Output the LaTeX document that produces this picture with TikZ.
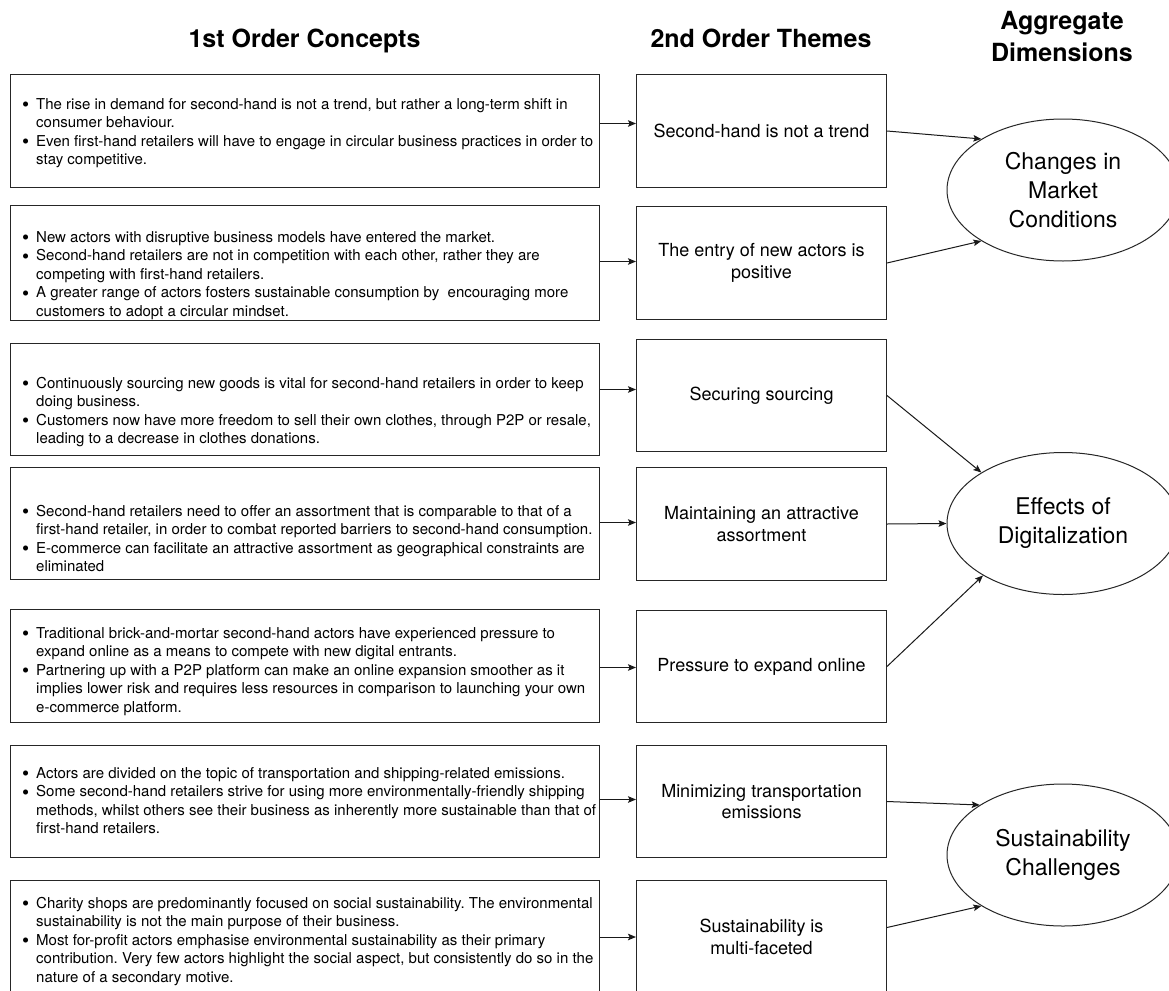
\documentclass[tikz,border=0pt]{standalone}
\usepackage{fontspec}
\usepackage{graphicx}
\setmainfont{TeX Gyre Heros}
\usetikzlibrary{arrows.meta,shapes.geometric,calc}
\newcommand{\bl}{\makebox[14pt][l]{\smash{\raisebox{-2.8pt}{\scalebox{1.35}{\textbullet}}}}}
\newcommand{\ind}{\hspace*{14pt}}
\frenchspacing
\begin{document}
\begin{tikzpicture}[x=1pt,y=-1pt,
  box/.style={draw=black!85, line width=1pt, rectangle, inner sep=0pt},
  lbox/.style={box, anchor=north west, minimum width=589pt},
  mbox/.style={box, anchor=north west, minimum width=250pt, align=center, font=\fontsize{18}{21.5}\selectfont},
  ltext/.style={anchor=base west, inner sep=0pt, font=\fontsize{15}{18.5}\selectfont},
  ell/.style={draw=black!85, line width=1pt, ellipse, minimum width=232pt, minimum height=142pt, inner sep=0pt, align=center, font=\fontsize{23}{29}\selectfont},
  hdr/.style={anchor=base, inner sep=0pt, font=\bfseries\fontsize{25}{32}\selectfont},
  arr/.style={line width=1pt, draw=black!90, -{Stealth[length=8pt,width=6.5pt,inset=1.5pt]}}
]
\useasboundingbox (0,0) rectangle (1169,990);
\fill[white] (0,0) rectangle (1169,990);
\clip (0,0) rectangle (1169,990);

% headers
\node[hdr] (h1) at (304.5,48) {1st Order Concepts};
\node[hdr] (h2) at (761,48) {2nd Order Themes};
\node[hdr] (h3) at (1062,29.5) {\begin{tabular}[t]{@{}c@{}}Aggregate\\Dimensions\end{tabular}};

% left boxes
\node[lbox, minimum height=113pt] (l1) at (10,74) {};
\node[lbox, minimum height=115pt] (l2) at (10,205) {};
\node[lbox, minimum height=112pt] (l3) at (10,343) {};
\node[lbox, minimum height=112pt] (l4) at (10,467) {};
\node[lbox, minimum height=113pt] (l5) at (10,609) {};
\node[lbox, minimum height=112pt] (l6) at (10,745) {};
\node[lbox, minimum height=113pt] (l7) at (10,880) {};

\node[ltext] (t1) at (22,109) {\begin{tabular}[t]{@{}l@{}}
\bl The rise in demand for second-hand is not a trend, but rather a long-term shift in\\
\ind consumer behaviour.\\
\bl Even first-hand retailers will have to engage in circular business practices in order to\\
\ind stay competitive.\end{tabular}};

\node[ltext] (t2) at (22,242) {\begin{tabular}[t]{@{}l@{}}
\bl New actors with disruptive business models have entered the market.\\
\bl Second-hand retailers are not in competition with each other, rather they are\\
\ind competing with first-hand retailers.\\
\bl A greater range of actors fosters sustainable consumption by\ \ encouraging more\\
\ind customers to adopt a circular mindset.\end{tabular}};

\node[ltext] (t3) at (22,388) {\begin{tabular}[t]{@{}l@{}}
\bl Continuously sourcing new goods is vital for second-hand retailers in order to keep\\
\ind doing business.\\
\bl Customers now have more freedom to sell their own clothes, through P2P or resale,\\
\ind leading to a decrease in clothes donations.\end{tabular}};

\node[ltext] (t4) at (22,516) {\begin{tabular}[t]{@{}l@{}}
\bl Second-hand retailers need to offer an assortment that is comparable to that of a\\
\ind first-hand retailer, in order to combat reported barriers to second-hand consumption.\\
\bl E-commerce can facilitate an attractive assortment as geographical constraints are\\
\ind eliminated\end{tabular}};

\node[ltext] (t5) at (22,638) {\begin{tabular}[t]{@{}l@{}}
\bl Traditional brick-and-mortar second-hand actors have experienced pressure to\\
\ind expand online as a means to compete with new digital entrants.\\
\bl Partnering up with a P2P platform can make an online expansion smoother as it\\
\ind implies lower risk and requires less resources in comparison to launching your own\\
\ind e-commerce platform.\end{tabular}};

\node[ltext] (t6) at (22,778) {\begin{tabular}[t]{@{}l@{}}
\bl Actors are divided on the topic of transportation and shipping-related emissions.\\
\bl Some second-hand retailers strive for using more environmentally-friendly shipping\\
\ind methods, whilst others see their business as inherently more sustainable than that of\\
\ind first-hand retailers.\end{tabular}};

\node[ltext] (t7) at (22,908) {\begin{tabular}[t]{@{}l@{}}
\bl Charity shops are predominantly focused on social sustainability. The environmental\\
\ind sustainability is not the main purpose of their business.\\
\bl Most for-profit actors emphasise environmental sustainability as their primary\\
\ind contribution. Very few actors highlight the social aspect, but consistently do so in the\\
\ind nature of a secondary motive.\end{tabular}};

% middle boxes
\node[mbox, minimum height=113pt] (m1) at (636,74) {Second-hand is not a trend};
\node[mbox, minimum height=113pt] (m2) at (636,206) {The entry of new actors is\\positive};
\node[mbox, minimum height=112pt] (m3) at (636,339) {Securing sourcing};
\node[mbox, minimum height=113pt] (m4) at (636,467) {Maintaining an attractive\\assortment};
\node[mbox, minimum height=112pt] (m5) at (636,610) {Pressure to expand online};
\node[mbox, minimum height=112pt] (m6) at (636,745) {Minimizing transportation\\emissions};
\node[mbox, minimum height=113pt] (m7) at (636,880) {Sustainability is\\multi-faceted};

% ellipses
\node[ell] (e1) at (1063,190) {Changes in\\Market\\Conditions};
\node[ell] (e2) at (1063,523.5) {Effects of\\Digitalization};
\node[ell] (e3) at (1063,855) {Sustainability\\Challenges};

% left -> middle
\draw[arr] ([yshift=7.5pt]l1.east) -- ([yshift=7.5pt]l1.east -| m1.west);
\draw[arr] ([yshift=1.5pt]l2.east) -- ([yshift=1.5pt]l2.east -| m2.west);
\draw[arr] ([yshift=10pt]l3.east) -- ([yshift=10pt]l3.east -| m3.west);
\draw[arr] ([yshift=1pt]l4.east) -- ([yshift=1pt]l4.east -| m4.west);
\draw[arr] ([yshift=-1.5pt]l5.east) -- ([yshift=-1.5pt]l5.east -| m5.west);
\draw[arr] ([yshift=2pt]l6.east) -- ([yshift=2pt]l6.east -| m6.west);
\draw[arr] (l7.east) -- (l7.east -| m7.west);

% middle -> ellipses
\draw[arr] (m1.east) -- (e1.148);
\draw[arr] (m2.east) -- (e1.212);
\draw[arr] (m3.east) -- (e2.148);
\draw[arr] (m4.east) -- (e2.west);
\draw[arr] (m5.east) -- (e2.213);
\draw[arr] (m6.east) -- (e3.149);
\draw[arr] ([yshift=9.5pt]m7.east) -- (e3.212);
\end{tikzpicture}
\end{document}
